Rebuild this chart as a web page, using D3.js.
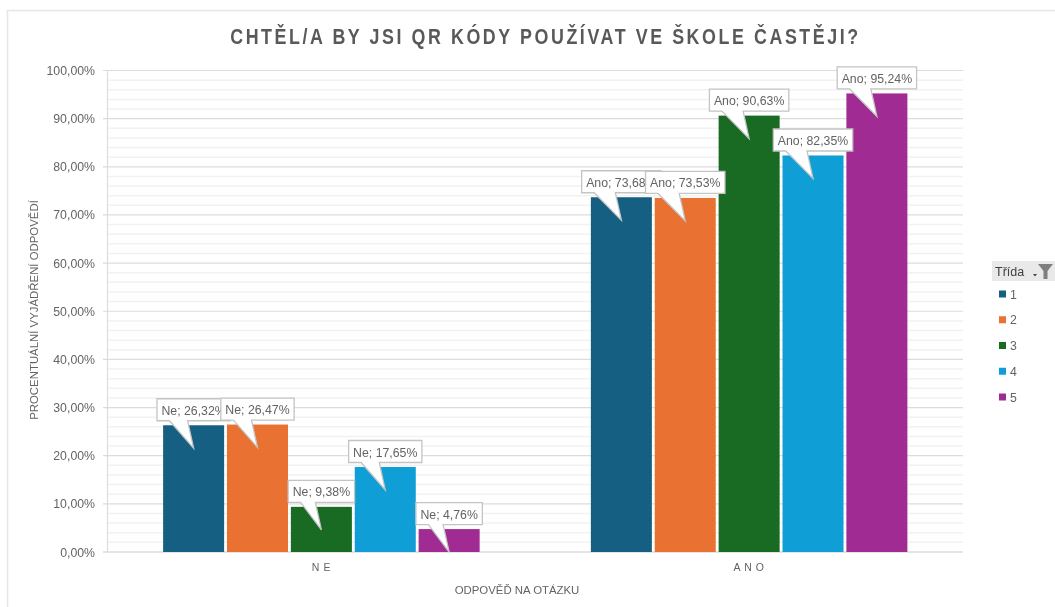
<!DOCTYPE html>
<html><head><meta charset="utf-8">
<script src="https://cdn.jsdelivr.net/npm/d3@7"></script>
<style>html,body{margin:0;padding:0;background:#fff;overflow:hidden}svg{display:block;font-family:"Liberation Sans",sans-serif;filter:blur(0.35px)}</style>
</head><body><svg id="c" width="1055" height="607"></svg>
<script>
const title = "CHTĚL/A BY JSI QR KÓDY POUŽÍVAT VE ŠKOLE ČASTĚJI?";
const categories = ["Ne", "Ano"];
const categoryLabels = ["N E", "A N O"];
const seriesNames = ["1", "2", "3", "4", "5"];
const seriesColors = ["#156082", "#E97132", "#196B24", "#0F9ED5", "#A02B93"];
const valuesNe = [26.32, 26.47, 9.38, 17.65, 4.76];
const valuesAno = [73.68, 73.53, 90.63, 82.35, 95.24];
const valuesByCategory = [valuesNe, valuesAno];
const majorTicks = d3.range(0, 101, 10);
const minorTicks = d3.range(0, 101, 2).filter(v => v % 10 !== 0);

const svg = d3.select("#c");
const fmt = v => v.toFixed(2).replace(".", ",") + "%";
const x0 = d3.scaleBand().domain(categories).range([107.5, 963]).paddingInner(0.26).paddingOuter(0.13);
const x1 = d3.scaleBand().domain(seriesNames).range([0, x0.bandwidth()]).paddingInner(0.045).paddingOuter(0);
const y = d3.scaleLinear().domain([0, 100]).range([552, 70.5]);

// frame
svg.append("path").attr("d", "M7.5,607V10.5H1055").attr("fill", "none").attr("stroke", "#e6e6e6").attr("stroke-width", 1.5);

// gridlines
svg.append("g").selectAll("line").data(minorTicks).join("line")
  .attr("x1", 107.5).attr("x2", 963).attr("y1", d => y(d)).attr("y2", d => y(d))
  .attr("stroke", "#f2f2f2").attr("stroke-width", 1.5);
svg.append("g").selectAll("line").data(majorTicks).join("line")
  .attr("x1", 103).attr("x2", 963).attr("y1", d => y(d)).attr("y2", d => y(d))
  .attr("stroke", "#dcdcdc").attr("stroke-width", d => d === 0 ? 1.6 : 1.2);
svg.append("line").attr("x1", 107.5).attr("x2", 107.5).attr("y1", y(100)).attr("y2", y(0)).attr("stroke", "#dcdcdc").attr("stroke-width", 1.2);

// y tick labels
svg.append("g").selectAll("text").data(majorTicks).join("text")
  .attr("x", 95).attr("y", d => y(d) + 4.5).attr("text-anchor", "end")
  .attr("font-size", 12.3).attr("fill", "#636363").text(d => fmt(d));

// category labels
svg.append("g").selectAll("text").data(categories).join("text")
  .attr("x", d => x0(d) + x0.bandwidth() / 2).attr("y", 571).attr("text-anchor", "middle")
  .attr("font-size", 10.5).attr("fill", "#636363").attr("letter-spacing", 0.6)
  .text((d, i) => categoryLabels[i]);

// axis titles
svg.append("text").attr("x", 517).attr("y", 594).attr("text-anchor", "middle")
  .attr("font-size", 11.4).attr("fill", "#636363").text("ODPOVĚĎ NA OTÁZKU");
svg.append("text").attr("transform", "translate(38,310) rotate(-90)").attr("text-anchor", "middle")
  .attr("font-size", 11.4).attr("fill", "#636363").text("PROCENTUÁLNÍ VYJÁDŘENÍ ODPOVĚDÍ");

// title
svg.append("text").attr("transform", "translate(545.5,44) scale(0.83,1)").attr("text-anchor", "middle")
  .attr("font-size", 21.5).attr("font-weight", 700).attr("letter-spacing", 3.1).attr("fill", "#595959").text(title);

// bars
const flat = [];
seriesNames.forEach((s, si) => categories.forEach((c, ci) => flat.push({s, si, c, v: valuesByCategory[ci][si]})));
svg.append("g").selectAll("rect").data(flat).join("rect")
  .attr("x", d => x0(d.c) + x1(d.s)).attr("width", x1.bandwidth())
  .attr("y", d => y(d.v)).attr("height", d => y(0) - y(d.v))
  .attr("fill", d => seriesColors[d.si]);

// callouts, in series order so later boxes overlay earlier ones
const labels = svg.append("g");
const order = [...flat].sort((a, b) => categories.indexOf(a.c) - categories.indexOf(b.c) || a.si - b.si);
order.forEach(d => {
  const g = labels.append("g");
  const cx = x0(d.c) + x1(d.s) + x1.bandwidth() / 2;
  const top = y(d.v);
  const path = g.append("path").attr("fill", "#fff").attr("stroke", "#c4c4c4").attr("stroke-width", 1.3);
  const txt = g.append("text").attr("x", cx).attr("y", top - 10.5).attr("text-anchor", "middle")
    .attr("font-size", 12.3).attr("fill", "#636363").text(`${d.c}; ${fmt(d.v)}`);
  const w = txt.node().getComputedTextLength() + 9;
  const l = cx - w / 2, r = cx + w / 2, t = top - 26.5, b = top - 4.5;
  path.attr("d", `M${l},${t}H${r}V${b}H${cx - 6}L${cx},${top + 23}L${l + 12.5},${b}H${l}Z`);
});

// legend
const lg = svg.append("g");
lg.append("rect").attr("x", 992).attr("y", 261).attr("width", 63).attr("height", 20).attr("fill", "#e9e9e9");
lg.append("text").attr("x", 995).attr("y", 276).attr("font-size", 12.5).attr("fill", "#404040").text("Třída");
lg.append("path").attr("d", "M1038,264H1053L1047.5,271V279H1043.5V271Z").attr("fill", "#7f7f7f");
lg.append("path").attr("d", "M1033,274H1037L1035,276.5Z").attr("fill", "#404040");
const ly = d3.scalePoint().domain(seriesNames).range([294, 397]);
lg.selectAll("rect.k").data(seriesNames).join("rect").attr("class", "k")
  .attr("x", 999).attr("y", d => ly(d) - 3.5).attr("width", 7).attr("height", 7)
  .attr("fill", (d, i) => seriesColors[i]);
lg.selectAll("text.k").data(seriesNames).join("text").attr("class", "k")
  .attr("x", 1010).attr("y", d => ly(d) + 4.5).attr("font-size", 12.3).attr("fill", "#636363").text(d => d);
</script></body></html>
